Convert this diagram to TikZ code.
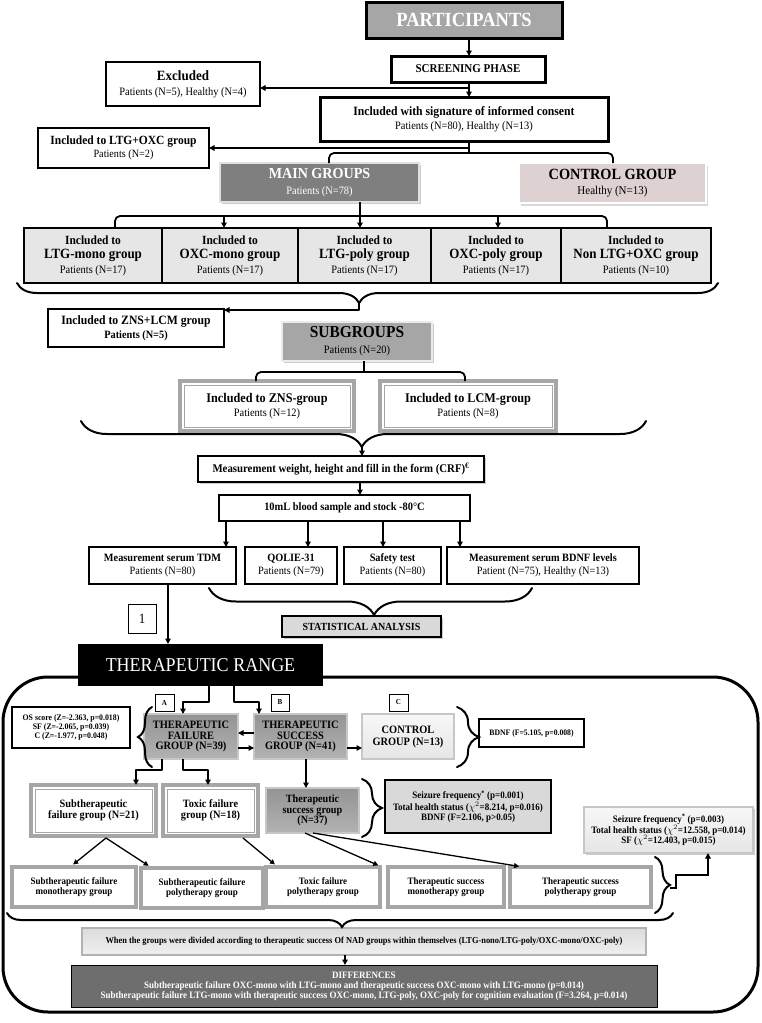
\documentclass[tikz,border=0pt]{standalone}
\usepackage{fontspec}
\setmainfont{Liberation Serif}[FakeStretch=0.92]
\usetikzlibrary{arrows.meta,decorations.pathreplacing,shadows,calc}
\definecolor{gry}{HTML}{A6A6A6}
\definecolor{dgry}{HTML}{7F7F7F}
\definecolor{lgry}{HTML}{D9D9D9}
\definecolor{rowc}{HTML}{E6E6E6}
\definecolor{pinkc}{RGB}{221,209,209}
\definecolor{dkc}{HTML}{6E6E6E}
\newcommand\fz[2]{\pgfmathsetmacro\fzA{#1*1.087}\fontsize{\fzA pt}{#2pt}\selectfont}
\newcommand\bx[7]{\node[#6, minimum width={#4-#2}, minimum height={#5-#3}] (#1) at ({(#2+#4)/2},{(#3+#5)/2}) {#7};}
\begin{document}
\begin{tikzpicture}[x=1pt,y=-1pt,
  every node/.style={inner sep=0pt, outer sep=0pt, align=center},
  bb/.style={draw=black, line width=2, fill=white},
  rowb/.style={draw=black, line width=2, fill=rowc, font=\bfseries\fz{11.5}{14.5}},
  dblb/.style={draw=gry, line width=3.5, fill=white},
  grb/.style={draw=black!35, line width=3.5, fill=white, font=\bfseries\fz{9}{10.5}},
  grad/.style={top color=black!42, bottom color=black!30, draw=black!22, line width=1.2},
  lgrad/.style={top color=black!3, bottom color=black!10, draw=black!22, line width=1.2},
  shd/.style={drop shadow={shadow xshift=2pt, shadow yshift=-2pt, fill=black!40}},
  lbl/.style={draw=black, line width=1, fill=white, font=\bfseries\fz{7}{8}},
  conn/.style={line width=1.8, line join=round},
  arr/.style={conn, -{Triangle[length=5.5pt,width=5.5pt]}},
  arrt/.style={line width=1.3, -{Triangle[length=5pt,width=5pt]}, shorten >=4pt},
  brc/.style={line width=2, line cap=round, decorate, decoration={brace, amplitude=#1}}]
\useasboundingbox (0,0) rectangle (762,1023);

% ---------- coordinates for connector positions
\foreach \xx in {469,360,224,498,168,306,345,106,70,152,243,278,305,382,313,523}
  \coordinate (X\xx) at (\xx,0);
\coordinate (k0) at (469,88);
\coordinate (k1) at (469,148);
\coordinate (j1) at (329,153);
\coordinate (j2) at (613,153);
\coordinate (m1) at (115,216);
\coordinate (m2) at (607,216);
\coordinate (bt1) at (359,303);
\coordinate (e1) at (359,310);
\coordinate (s1) at (256,372);
\coordinate (s2) at (465,372);
\coordinate (X364) at (364,0);
\coordinate (bt2) at (362,447);
\coordinate (xa) at (226,0);
\coordinate (xb) at (308,0);
\coordinate (xc) at (383,0);
\coordinate (xd) at (460,0);
\coordinate (t1) at (209,702);
\coordinate (t2) at (183,702);
\coordinate (t3) at (234,702);
\coordinate (t4) at (259,702);
\coordinate (u1) at (0,733);
\coordinate (u2) at (0,748);
\coordinate (v1) at (162,770);
\coordinate (v2) at (136,770);
\coordinate (v3) at (183,770);
\coordinate (v4) at (208,770);
\coordinate (bt7) at (670,888);
\coordinate (w1) at (676,888);
\coordinate (w2) at (676,875);
\coordinate (w3) at (708,875);

% ---------- top part
\bx{part}{366}{2}{562}{38}{draw=black, line width=3, fill=gry, text=white, font=\bfseries\fz{18.5}{20}}{PARTICIPANTS}
\bx{screen}{391}{56}{545}{82}{bb, line width=3, font=\bfseries\fz{11}{13}}{SCREENING PHASE}
\bx{excl}{106}{62}{260}{106}{bb, font=\bfseries\fz{13}{15}}{Excluded\\\mdseries\fz{10.4}{15}Patients (N=5), Healthy (N=4)}
\bx{incl}{320}{97}{608}{141}{bb, line width=3, font=\bfseries\fz{11.7}{14}}{Included with signature of informed consent\\\mdseries\fz{10.4}{14}Patients (N=80), Healthy (N=13)}
\bx{ltgoxc}{38}{128}{209}{168}{bb, font=\bfseries\fz{11.5}{13}}{Included to LTG+OXC group\\\mdseries\fz{10.2}{13}Patients (N=2)}
\bx{main}{220}{163}{419}{202}{fill=dgry, draw=black!12, line width=2, text=white, shd, font=\bfseries\fz{14.1}{15.5}}{MAIN GROUPS\\\mdseries\fz{10.4}{15.5}Patients (N=78)}
\bx{ctrl}{519}{163}{706}{203}{fill=pinkc, draw=white, line width=1.5, drop shadow={shadow xshift=2pt, shadow yshift=-3pt, fill=black!30}, font=\bfseries\fz{14.3}{15.5}}{CONTROL GROUP\\\mdseries\fz{11}{15.5}Healthy (N=13)}

\bx{r1}{24}{228}{162}{283}{rowb}{Included to\\\fz{13}{14.5}LTG-mono group\\\mdseries\fz{10.4}{14.5}Patients (N=17)}
\bx{r2}{162}{228}{298}{283}{rowb}{Included to\\\fz{13}{14.5}OXC-mono group\\\mdseries\fz{10.4}{14.5}Patients (N=17)}
\bx{r3}{298}{228}{431}{283}{rowb}{Included to\\\fz{13}{14.5}LTG-poly group\\\mdseries\fz{10.4}{14.5}Patients (N=17)}
\bx{r4}{431}{228}{561}{283}{rowb}{Included to\\\fz{13}{14.5}OXC-poly group\\\mdseries\fz{10.4}{14.5}Patients (N=17)}
\bx{r5}{561}{228}{711}{283}{rowb}{Included to\\\fz{13}{14.5}Non LTG+OXC group\\\mdseries\fz{10.4}{14.5}Patients (N=10)}

\bx{znslcm}{48}{309}{224}{347}{bb, font=\bfseries\fz{11.7}{14}}{Included to ZNS+LCM group\\\fz{10.3}{14}Patients (N=5)}
\bx{sub}{282}{322}{432}{361}{fill=gry, draw=black!8, line width=2, shd, font=\bfseries\fz{15.4}{16}}{SUBGROUPS\\\mdseries\fz{10.4}{16}Patients (N=20)}
\bx{zns}{180}{381}{354}{431}{dblb, font=\bfseries\fz{12.2}{14}}{Included to ZNS-group\\\mdseries\fz{10.4}{14}Patients (N=12)}
\bx{lcm}{380}{381}{556}{431}{dblb, font=\bfseries\fz{12.2}{14}}{Included to LCM-group\\\mdseries\fz{10.4}{14}Patients (N=8)}

\bx{meas}{198}{456}{484}{482}{bb, shd, font=\bfseries\fz{10.8}{12}}{Measurement weight, height and fill in the form (CRF)\textsuperscript{€}}
\bx{blood}{219}{495}{470}{521}{bb, font=\bfseries\fz{10.4}{12}}{10mL blood sample and stock -80°C}
\bx{tdm}{89}{547}{236}{584}{bb, font=\bfseries\fz{10.3}{13}}{Measurement serum TDM\\\mdseries Patients (N=80)}
\bx{qol}{245}{547}{337}{584}{bb, font=\bfseries\fz{10.3}{13}}{QOLIE-31\\\mdseries Patients (N=79)}
\bx{safe}{344}{547}{441}{584}{bb, font=\bfseries\fz{10.3}{13}}{Safety test\\\mdseries Patients (N=80)}
\bx{bdnf}{447}{547}{639}{584}{bb, font=\bfseries\fz{10.3}{13}}{Measurement serum BDNF levels\\\mdseries Patient (N=75), Healthy (N=13)}
\bx{stat}{282}{616}{441}{637}{fill=lgry, draw=black, line width=1.5, shd, font=\bfseries\fz{10}{12}}{STATISTICAL ANALYSIS}
\bx{one}{128}{604}{156}{633}{draw=black, line width=1, fill=white, font=\fz{13}{14}}{1}

% ---------- therapeutic range frame
\draw[line width=3, rounded corners=45] (3,677) rectangle (758,1012);
\bx{tr}{78}{644}{323}{686}{fill=black, text=white, font=\fz{18}{20}}{THERAPEUTIC RANGE}

\bx{la}{155}{694}{174}{711}{lbl}{A}
\bx{lb}{271}{694}{289}{711}{lbl}{B}
\bx{lc}{389}{694}{408}{711}{lbl}{C}

\bx{os}{12}{707}{130}{748}{bb, font=\bfseries\fz{7.8}{9}}{OS score (Z=-2.363, p=0.018)\\SF (Z=-2.065, p=0.039)\\C (Z=-1.977, p=0.048)}
\bx{fail}{144}{714}{238}{759}{grad, font=\bfseries\fz{10.4}{10.5}}{THERAPEUTIC\\FAILURE\\GROUP (N=39)}
\bx{succ}{254}{714}{347}{759}{grad, font=\bfseries\fz{10.4}{10.5}}{THERAPEUTIC\\SUCCESS\\GROUP (N=41)}
\bx{ctl}{362}{714}{454}{759}{lgrad, font=\bfseries\fz{10.4}{12}}{CONTROL\\GROUP (N=13)}
\bx{bdnfF}{479}{719}{584}{747}{bb, font=\bfseries\fz{7.7}{9}}{BDNF (F=5.105, p=0.008)}

\bx{subf}{31}{785}{156}{836}{dblb, font=\bfseries\fz{10.3}{11}}{Subtherapeutic\\failure group (N=21)}
\bx{toxf}{163}{785}{258}{836}{dblb, font=\bfseries\fz{10.3}{11}}{Toxic failure\\group (N=18)}
\bx{succ37}{266}{788}{359}{833}{grad, font=\bfseries\fz{10.2}{10.5}}{Therapeutic\\success group\\(N=37)}
\bx{seiz1}{385}{780}{551}{833}{fill=lgry, draw=black, line width=2, font=\bfseries\fz{9}{10}}{Seizure frequency\textsuperscript{*} (p=0.001)\\Total health status ($\chi^2$=8.214, p=0.016)\\BDNF (F=2.106, p>0.05)}
\bx{seiz2}{584}{807}{753}{853}{lgrad, shd, font=\bfseries\fz{9}{10.5}}{Seizure frequency\textsuperscript{*} (p=0.003)\\Total health status ($\chi^2$=12.558, p=0.014)\\SF ($\chi^2$=12.403, p=0.015)}

\foreach \n in {zns,lcm,subf,toxf}
  \draw[gry, line width=0.8] ([xshift=4,yshift=-4]\n.north west) rectangle ([xshift=-4,yshift=4]\n.south east);

\bx{b1}{12}{867}{136}{907}{grb}{Subtherapeutic failure\\monotherapy group}
\bx{b2}{141}{868}{263}{908}{grb}{Subtherapeutic failure\\polytherapy group}
\bx{b3}{266}{867}{380}{907}{grb}{Toxic failure\\polytherapy group}
\bx{b4}{388}{867}{504}{907}{grb}{Therapeutic success\\monotherapy group}
\bx{b5}{510}{867}{651}{907}{grb}{Therapeutic success\\polytherapy group}

\bx{when}{82}{928}{646}{955}{top color=black!14, bottom color=black!6, draw=black!30, line width=1.2, font=\bfseries\fz{8.4}{10}}{When the groups were divided according to therapeutic success Of NAD groups within themselves (LTG-nono/LTG-poly/OXC-mono/OXC-poly)}
\bx{diff}{71}{965}{657}{1007}{fill=dkc, draw=black, line width=1, text=white, font=\bfseries\fz{9}{10}}{DIFFERENCES\\Subtherapeutic failure OXC-mono with LTG-mono and therapeutic success OXC-mono with LTG-mono (p=0.014)\\Subtherapeutic failure LTG-mono with therapeutic success OXC-mono, LTG-poly, OXC-poly for cognition evaluation (F=3.264, p=0.014)}

% ---------- connectors, top
\draw[arr] (part.south -| X469) -- (screen.north -| X469);
\draw[arr] (screen.south -| X469) -- (incl.north -| X469);
\draw[arr] (k0) -- (excl.east |- k0);
\draw[conn] (incl.south -| X469) -- (X469 |- j1);
\draw[arr] (k1) -- (ltgoxc.east |- k1);
\draw[conn, rounded corners=5] (main.north -| j1) -- (j1) -- (j2) -- (ctrl.north -| j2);
\draw[conn] (main.south -| X360) -- (X360 |- m1);
\draw[conn, rounded corners=5] (r1.north -| m1) -- (m1) -- (m2) -- (r5.north -| m2);
\draw[arr] (X224 |- m1) -- (r2.north -| X224);
\draw[arr] (X360 |- m1) -- (r3.north -| X360);
\draw[arr] (X498 |- m1) -- (r4.north -| X498);

% braces and links, middle
\draw[brc=20, decoration={aspect=0.512}] (718,283) -- (17,283);
\draw[arr] (bt1) |- (znslcm.east |- e1);
\draw[conn] (sub.south -| X364) -- (X364 |- s1);
\draw[conn, rounded corners=5] (zns.north -| s1) -- (s1) -- (s2) -- (lcm.north -| s2);
\draw[brc=26, decoration={aspect=0.503}] (646,421) -- (81,421);
\draw[arr] (bt2) -- (meas.north -| bt2);
\draw[arr] (meas.south -| X360) -- (blood.north -| X360);
\draw[arr] (blood.south -| xa) -- (tdm.north -| xa);
\draw[arr] (blood.south -| xb) -- (qol.north -| xb);
\draw[arr] (blood.south -| xc) -- (safe.north -| xc);
\draw[arr] (blood.south -| xd) -- (bdnf.north -| xd);
\draw[brc=27, decoration={aspect=0.489}] (532,588) -- (209,588);
\draw[arr] (tdm.south -| X168) -- (tr.north -| X168);

% therapeutic area
\draw[arr] (tr.south -| t1) -- (t1) -- (t2) -- (fail.north -| t2);
\draw[arr] (tr.south -| t3) -- (t3) -- (t4) -- (succ.north -| t4);
\draw[arr] (succ.west |- u1) -- (fail.east |- u1);
\draw[arr] (fail.east |- u2) -- (succ.west |- u2);
\draw[arr] (succ.east |- u2) -- (ctl.west |- u2);
\draw[brc=14, decoration={aspect=0.5}] (152,767) -- (152,707);
\draw[brc=22, decoration={aspect=0.5}] (457,707) -- (457,767);
\draw[arr] (fail.south -| v1) -- (v1) -- (v2) -- (subf.north -| v2);
\draw[arr] (fail.south -| v3) -- (v3) -- (v4) -- (toxf.north -| v4);
\draw[arr] (succ.south -| X306) -- (succ37.north -| X306);
\draw[brc=20, decoration={aspect=0.5}] (362,779) -- (362,837);

\draw[arrt] ([yshift=-2]subf.south -| X106) -- (b1.north -| X70);
\draw[arrt] ([yshift=-2]subf.south -| X106) -- (b2.north -| X152);
\draw[arrt] ([yshift=-2]toxf.south -| X243) -- (b3.north -| X278);
\draw[arrt] (succ37.south -| X305) -- (b4.north -| X382);
\draw[arrt] (succ37.south -| X313) -- (b5.north -| X523);

\draw[brc=15, decoration={aspect=0.5}] (655,857) -- (655,913);
\draw[line width=1.6, -{Triangle[length=5.5pt,width=5.5pt]}] (bt7) -- (w1) -- (w2) -- (w3) -- (seiz2.south -| w3);
\draw[brc=14, decoration={aspect=0.497}] (673,913) -- (7,913);
\draw[arr] (when.south -| X345) -- (diff.north -| X345);
\end{tikzpicture}
\end{document}
